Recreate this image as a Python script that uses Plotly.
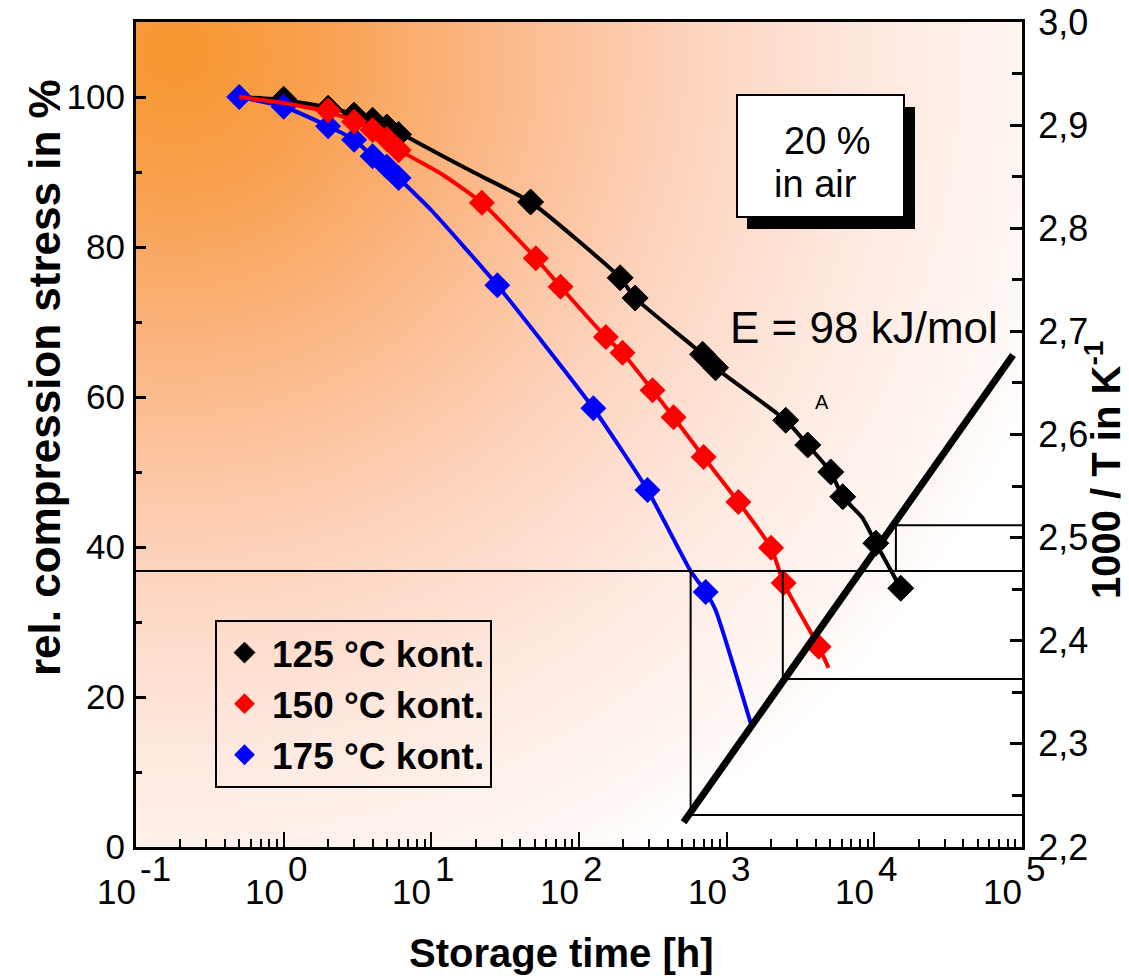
import base64
import plotly.graph_objects as go

# ---------------- data ----------------
# markers: storage time [h] and relative compression stress [%]
t125 = [1, 2, 3, 4, 5, 6, 47, 190, 240, 687, 841, 2513, 3540, 5070, 6110, 10240, 15100]
s125 = [99.7, 98.5, 97.6, 96.9, 96.0, 95.0, 86.0, 75.9, 73.2, 65.7, 63.9, 56.9, 53.6, 50.0, 46.7, 40.5, 34.5]

t150 = [2, 3, 4, 5, 6, 22, 51, 75, 152, 197, 315, 437, 698, 1200, 2000, 2430, 4200]
s150 = [98.2, 96.7, 95.6, 94.4, 92.9, 85.9, 78.5, 74.7, 68.0, 65.9, 60.9, 57.3, 52.0, 46.0, 39.9, 35.2, 26.7]

t175 = [0.5, 1, 2, 3, 4, 5, 6, 28, 125, 291, 721]
s175 = [100.0, 98.7, 96.1, 94.3, 92.1, 90.7, 89.2, 74.9, 58.5, 47.6, 34.0]

# fitted curves
c125_t = [0.5, 1, 2, 3, 4, 5, 6, 12, 22, 47, 190, 240, 687, 841, 2513, 3540, 5070, 6110, 8300, 10240, 15100]
c125_s = [100.0, 99.6, 98.6, 97.7, 96.9, 96.1, 95.3, 92.1, 89.4, 86.0, 75.9, 73.2, 65.7, 63.9, 56.9, 53.6, 50.0, 46.7, 43.9, 40.5, 34.5]
c150_t = [0.5, 1, 2, 3, 4, 5, 6, 12, 22, 51, 75, 152, 197, 315, 437, 698, 1200, 2000, 2430, 4200, 4900]
c150_s = [100.0, 99.2, 98.0, 96.8, 95.6, 94.4, 93.0, 89.6, 85.9, 78.5, 74.7, 68.0, 65.9, 60.9, 57.3, 52.0, 46.0, 39.9, 35.2, 26.7, 23.9]
c175_t = [0.5, 1, 2, 3, 4, 5, 6, 10, 28, 125, 291, 570, 721, 841, 1455]
c175_s = [100.0, 98.7, 96.1, 94.3, 92.1, 90.7, 89.2, 84.9, 74.9, 58.5, 47.6, 36.8, 34.0, 31.6, 16.5]

# Arrhenius construction (right axis: 1000/T in 1/K)
life_level = 36.8                   # % level used for the lifetime
life_t = [570, 2400, 14000]         # lifetimes [h] at 175, 150, 125 degC
inv_T = [2.231, 2.363, 2.512]       # 1000/T [1/K]
arr_t = [511, 86900]                # activation-energy line, time [h]
arr_inv = [2.224, 2.677]            # activation-energy line, 1000/T

labels = ["125 °C kont.", "150 °C kont.", "175 °C kont."]
y_ticks = [0, 20, 40, 60, 80, 100]
y2_ticks = [2.2, 2.3, 2.4, 2.5, 2.6, 2.7, 2.8, 2.9, 3.0]
y2_text = ["2,2", "2,3", "2,4", "2,5", "2,6", "2,7", "2,8", "2,9", "3,0"]
x_exp = [-1, 0, 1, 2, 3, 4, 5]

# ---------------- layout helpers ----------------
W, H = 1129, 976
L, R, T, B = 136, 1022, 22, 847
Y_MAX, Y2_MIN, Y2_MAX = 110, 2.2, 3.0


def px(x):
    return (x - L) / (R - L)


def py(y):
    return (B - y) / (B - T)


FONT = "Liberation Sans, Arial, Helvetica, sans-serif"

fig = go.Figure()

# background gradient (style)
svg = (
    "<svg xmlns='http://www.w3.org/2000/svg' width='886' height='825' viewBox='0 0 886 825'>"
    "<defs><radialGradient id='g' gradientUnits='userSpaceOnUse' cx='40' cy='30' r='920'>"
    "<stop offset='0' stop-color='#F7962E'/>"
    "<stop offset='0.15' stop-color='#F8A04E'/>"
    "<stop offset='0.35' stop-color='#FBB888'/>"
    "<stop offset='0.55' stop-color='#FDD2BB'/>"
    "<stop offset='0.75' stop-color='#FEE8DE'/>"
    "<stop offset='0.95' stop-color='#FFF8F5'/>"
    "<stop offset='1' stop-color='#FFFFFF'/>"
    "</radialGradient></defs><rect width='886' height='825' fill='url(#g)'/></svg>"
)
fig.add_layout_image(
    source="data:image/svg+xml;base64," + base64.b64encode(svg.encode()).decode(),
    xref="paper", yref="paper", x=0, y=1, sizex=1, sizey=1,
    xanchor="left", yanchor="top", sizing="stretch", layer="below",
)

# construction lines (thin, black)
y2_life = Y2_MIN + life_level / Y_MAX * (Y2_MAX - Y2_MIN)
fig.add_shape(type="line", xref="paper", yref="y", x0=0, x1=1, y0=life_level, y1=life_level,
              line=dict(color="black", width=2))
for tt, iv in zip(life_t, inv_T):
    fig.add_trace(go.Scatter(x=[tt, tt, 1e5], y=[y2_life, iv, iv], yaxis="y2", mode="lines",
                             line=dict(color="black", width=2), showlegend=False, hoverinfo="skip"))

# Arrhenius line
fig.add_trace(go.Scatter(x=arr_t, y=arr_inv, yaxis="y2", mode="lines",
                         line=dict(color="black", width=7), showlegend=False, hoverinfo="skip"))

# curves and markers: black (bottom), blue, red (top)
series = [
    (c125_t, c125_s, t125, s125, "black", labels[0], 1, dict(color="black", width=1)),
    (c175_t, c175_s, t175, s175, "#0000FF", labels[2], 3, dict(color="#0000FF", width=0)),
    (c150_t, c150_s, t150, s150, "#FF0000", labels[1], 2, dict(color="#FF0000", width=0)),
]
for ct, cs, mt, ms, col, lab, rank, mline in series:
    fig.add_trace(go.Scatter(x=ct, y=cs, mode="lines", line=dict(color=col, width=4, shape="spline", smoothing=0.5),
                             showlegend=False, hoverinfo="skip"))
    fig.add_trace(go.Scatter(x=mt, y=ms, mode="markers", name=lab, legendrank=rank,
                             marker=dict(symbol="diamond", size=20, color=col, line=mline)))

# text box "20 % in air" with shadow
fig.add_shape(type="rect", xref="paper", yref="paper", x0=px(747), x1=px(915), y0=py(229), y1=py(107),
              fillcolor="black", line=dict(width=0))
fig.add_shape(type="rect", xref="paper", yref="paper", x0=px(737), x1=px(904), y0=py(217), y1=py(95),
              fillcolor="white", line=dict(color="black", width=2))

ann = []


def text(x, y, s, size, bold=False, angle=0, xanchor="center", yanchor="middle"):
    ann.append(dict(
        x=px(x), y=py(y), xref="paper", yref="paper", text=s, showarrow=False,
        textangle=angle, xanchor=xanchor, yanchor=yanchor,
        font=dict(family=FONT, size=size, color="black", weight="bold" if bold else "normal"),
    ))


text(827, 141, "20 %", 38)
text(815, 184, "in air", 38)
text(864, 327, "E = 98 kJ/mol", 44)
text(822, 402, "A", 20)
text(44, 378, "rel. compression stress in %", 44, bold=True, angle=-90)
text(561, 953, "Storage time [h]", 40, bold=True)
text(1103, 470, "1000 / T in K<sup>-1</sup>", 40, bold=True, angle=-90)

# x tick labels 10^n
for e in x_exp:
    ann.append(dict(x=e, y=py(892), xref="x", yref="paper", text="10", showarrow=False,
                    xanchor="right", yanchor="middle", xshift=2,
                    font=dict(family=FONT, size=35, color="black")))
    ann.append(dict(x=e, y=py(868), xref="x", yref="paper", text=str(e), showarrow=False,
                    xanchor="left", yanchor="middle", xshift=2,
                    font=dict(family=FONT, size=35, color="black")))

fig.update_layout(
    width=W, height=H,
    margin=dict(l=L, r=W - R, t=T, b=H - B, pad=0, autoexpand=False),
    paper_bgcolor="white", plot_bgcolor="rgba(0,0,0,0)",
    font=dict(family=FONT, color="black"),
    annotations=ann,
    showlegend=True,
    legend=dict(x=px(215), y=py(620), xanchor="left", yanchor="top",
                bgcolor="rgba(0,0,0,0)", bordercolor="black", borderwidth=2,
                font=dict(family=FONT, size=37, color="black", weight="bold"),
                itemsizing="trace", itemwidth=45),
    xaxis=dict(type="log", range=[-1, 5], showgrid=False, zeroline=False, automargin=False,
               showline=True, linewidth=3, linecolor="black", mirror=True,
               ticks="inside", ticklen=15, tickwidth=2, tickcolor="black", dtick=1,
               showticklabels=False,
               minor=dict(ticks="inside", ticklen=8, tickwidth=2, tickcolor="black", dtick="D1")),
    yaxis=dict(range=[0, Y_MAX], showgrid=False, zeroline=False, automargin=False,
               showline=True, linewidth=3, linecolor="black",
               ticks="inside", ticklen=10, tickwidth=3, tickcolor="black",
               tickvals=y_ticks, tickfont=dict(size=35, family=FONT, color="black"),
               ticklabelstandoff=1,
               minor=dict(ticks="inside", ticklen=6, tickwidth=3, tickcolor="black", dtick=10)),
    yaxis2=dict(range=[Y2_MIN, Y2_MAX], overlaying="y", side="right", showgrid=False, zeroline=False,
                automargin=False,
                showline=True, linewidth=3, linecolor="black",
                ticks="inside", ticklen=12, tickwidth=3, tickcolor="black",
                tickvals=y2_ticks, ticktext=y2_text, ticklabelstandoff=6,
                tickfont=dict(size=36, family=FONT, color="black"),
                minor=dict(ticks="inside", ticklen=10, tickwidth=3, tickcolor="black", dtick=0.05)),
)

fig.write_html("out.html", config={"displayModeBar": False},
               post_script="document.body.style.margin='0px';")
